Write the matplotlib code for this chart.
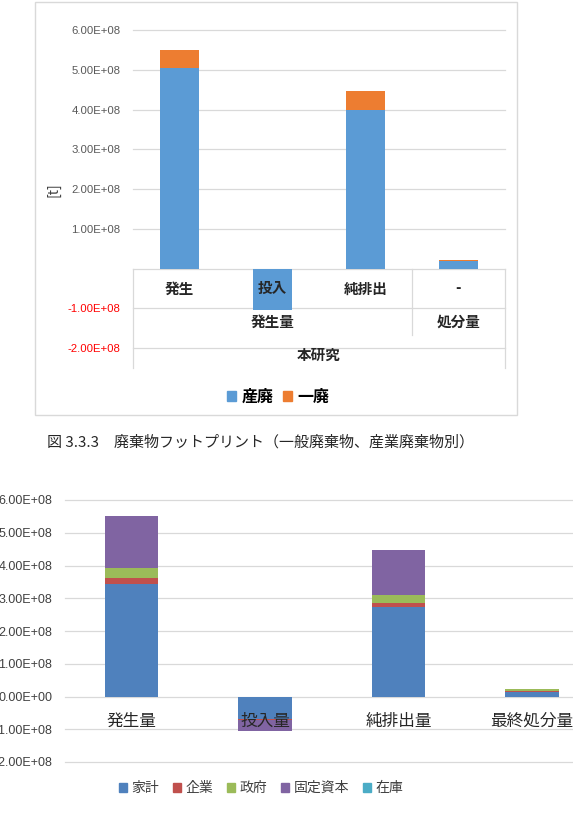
import numpy as np
import matplotlib
matplotlib.use("Agg")
import matplotlib.pyplot as plt
from matplotlib.patches import Rectangle, Patch

plt.rcParams['font.family'] = ['Noto Sans CJK JP', 'DejaVu Sans']

W, H = 573, 817

# ----- data: top chart (waste type) -----
cats_top = ["発生", "投入", "純排出", "-"]
group_top = ["発生量", "処分量"]
study_top = "本研究"
sanpai = [5.04e8, -1.04e8, 3.98e8, 0.20e8]
ippai = [0.45e8, 0.0, 0.48e8, 0.006e8]

# ----- data: bottom chart (final demand) -----
cats_bot = ["発生量", "投入量", "純排出量", "最終処分量"]
series_bot = ["家計", "企業", "政府", "固定資本", "在庫"]
kakei = [3.42e8, -0.68e8, 2.72e8, 0.14e8]
kigyo = [0.20e8, -0.04e8, 0.12e8, 0.03e8]
seifu = [0.30e8, -0.01e8, 0.26e8, 0.05e8]
kotei = [1.58e8, -0.33e8, 1.36e8, -0.03e8]
zaiko = [0.0, 0.0, 0.0, 0.005e8]

yticks = np.arange(-2, 7) * 1e8
caption = "図 3.3.3　廃棄物フットプリント（一般廃棄物、産業廃棄物別）"


def px_rect(x0, y0, x1, y1):
    # pixel box (top-left origin) -> figure fraction [l, b, w, h]
    return [x0 / W, 1 - y1 / H, (x1 - x0) / W, (y1 - y0) / H]


def stacked(ax, x, series, colors, width):
    pos = np.zeros(len(x))
    neg = np.zeros(len(x))
    for vals, c in zip(series, colors):
        vals = np.array(vals)
        bottom = np.where(vals >= 0, pos, neg)
        ax.bar(x, vals, width, bottom=bottom, color=c, zorder=2)
        pos = pos + np.where(vals >= 0, vals, 0)
        neg = neg + np.where(vals < 0, vals, 0)


def hgrid(ax, ticks):
    # excel style gridlines, not clipped at the plot edge
    for t in ticks:
        ax.axhline(t, color="#D9D9D9", lw=0.9, zorder=0, clip_on=False)


fig = plt.figure(figsize=(W / 100, H / 100), dpi=100)

# chart frame of the top figure
fig.patches.append(Rectangle((35 / W, 1 - 415 / H), (517 - 35) / W, (415 - 2) / H,
                             transform=fig.transFigure, fill=False,
                             edgecolor="#D9D9D9", lw=1))

# ----- top chart -----
ax1 = fig.add_axes(px_rect(133, 30, 505, 348))
x = np.arange(len(cats_top))
stacked(ax1, x, [sanpai, ippai], ["#5B9BD5", "#ED7D31"], 0.41)
ax1.set_xlim(-0.5, 3.5)
ax1.set_ylim(-2e8, 6e8)
ticks1 = [t for t in yticks if t != 0]
ax1.set_yticks(ticks1)
ax1.set_yticklabels([f"{t:.2E}" for t in ticks1],
                    family="Liberation Sans", fontsize=8.2, color="#595959")
for lab, t in zip(ax1.get_yticklabels(), ticks1):
    if t < 0:
        lab.set_color("#FF0000")
ax1.set_xticks([])
ax1.tick_params(length=0, pad=9)
hgrid(ax1, ticks1)
for s in ax1.spines.values():
    s.set_visible(False)

# multi-level category table
lc = "#D9D9D9"
ax1.plot([-0.5, 3.5], [0, 0], color=lc, lw=0.9, clip_on=False, zorder=1)
ax1.plot([-0.5, -0.5], [0, -2.5e8], color=lc, lw=0.9, clip_on=False, zorder=1)
ax1.plot([3.5, 3.5], [0, -2.5e8], color=lc, lw=0.9, clip_on=False, zorder=1)
ax1.plot([2.5, 2.5], [0, -1.68e8], color=lc, lw=0.9, clip_on=False, zorder=1)
for i, c in enumerate(cats_top):
    ax1.text(i, -0.5e8, c, ha="center", va="center", fontsize=10.5,
             fontweight="bold", color="#262626", zorder=3)
ax1.text(1, -1.33e8, group_top[0], ha="center", va="center", fontsize=10.5,
         fontweight="bold", color="#262626", zorder=3, clip_on=False)
ax1.text(3, -1.33e8, group_top[1], ha="center", va="center", fontsize=10.5,
         fontweight="bold", color="#262626", zorder=3, clip_on=False)
ax1.text(1.5, -2.18e8, study_top, ha="center", va="center", fontsize=10.5,
         fontweight="bold", color="#262626", zorder=3, clip_on=False)

fig.text(53 / W, 1 - 190 / H, "[t]", rotation=90, ha="center", va="center",
         fontsize=10, color="#404040")

fig.legend(handles=[Patch(color="#5B9BD5", label="産廃"),
                    Patch(color="#ED7D31", label="一廃")],
           loc="center", bbox_to_anchor=(278 / W, 1 - 397 / H), ncol=2,
           frameon=False, handlelength=0.6, handleheight=0.6,
           handletextpad=0.3, columnspacing=0.6,
           prop={"weight": "bold", "size": 11.5})

fig.text(47 / W, 1 - 442 / H, caption, ha="left", va="center", fontsize=10.8,
         color="#262626")

# ----- bottom chart -----
ax2 = fig.add_axes(px_rect(64.75, 500, 64.75 + 534, 762))
xb = np.arange(len(cats_bot))
stacked(ax2, xb, [kakei, kigyo, seifu, kotei, zaiko],
        ["#4F81BD", "#C0504D", "#9BBB59", "#8064A2", "#4BACC6"], 0.4)
ax2.set_xlim(-0.5, 3.5)
ax2.set_ylim(-2e8, 6e8)
ax2.set_yticks(yticks)
ax2.set_yticklabels([f"{t:.2E}" for t in yticks],
                    family="Liberation Sans", fontsize=9, color="#404040")
ax2.set_xticks([])
ax2.tick_params(length=0, pad=9)
hgrid(ax2, yticks)
for s in ax2.spines.values():
    s.set_visible(False)
for i, c in enumerate(cats_bot):
    ax2.text(i, -0.76e8, c, ha="center", va="center", fontsize=12,
             color="#262626", zorder=3, clip_on=False)

fig.legend(handles=[Patch(color=c, label=s) for s, c in
                    zip(series_bot, ["#4F81BD", "#C0504D", "#9BBB59", "#8064A2", "#4BACC6"])],
           loc="center", bbox_to_anchor=(261 / W, 1 - 788 / H), ncol=5,
           frameon=False, handlelength=0.6, handleheight=0.6,
           handletextpad=0.3, columnspacing=1.0,
           prop={"size": 10}, labelcolor="#404040")

fig.savefig("out.png", dpi=100)
